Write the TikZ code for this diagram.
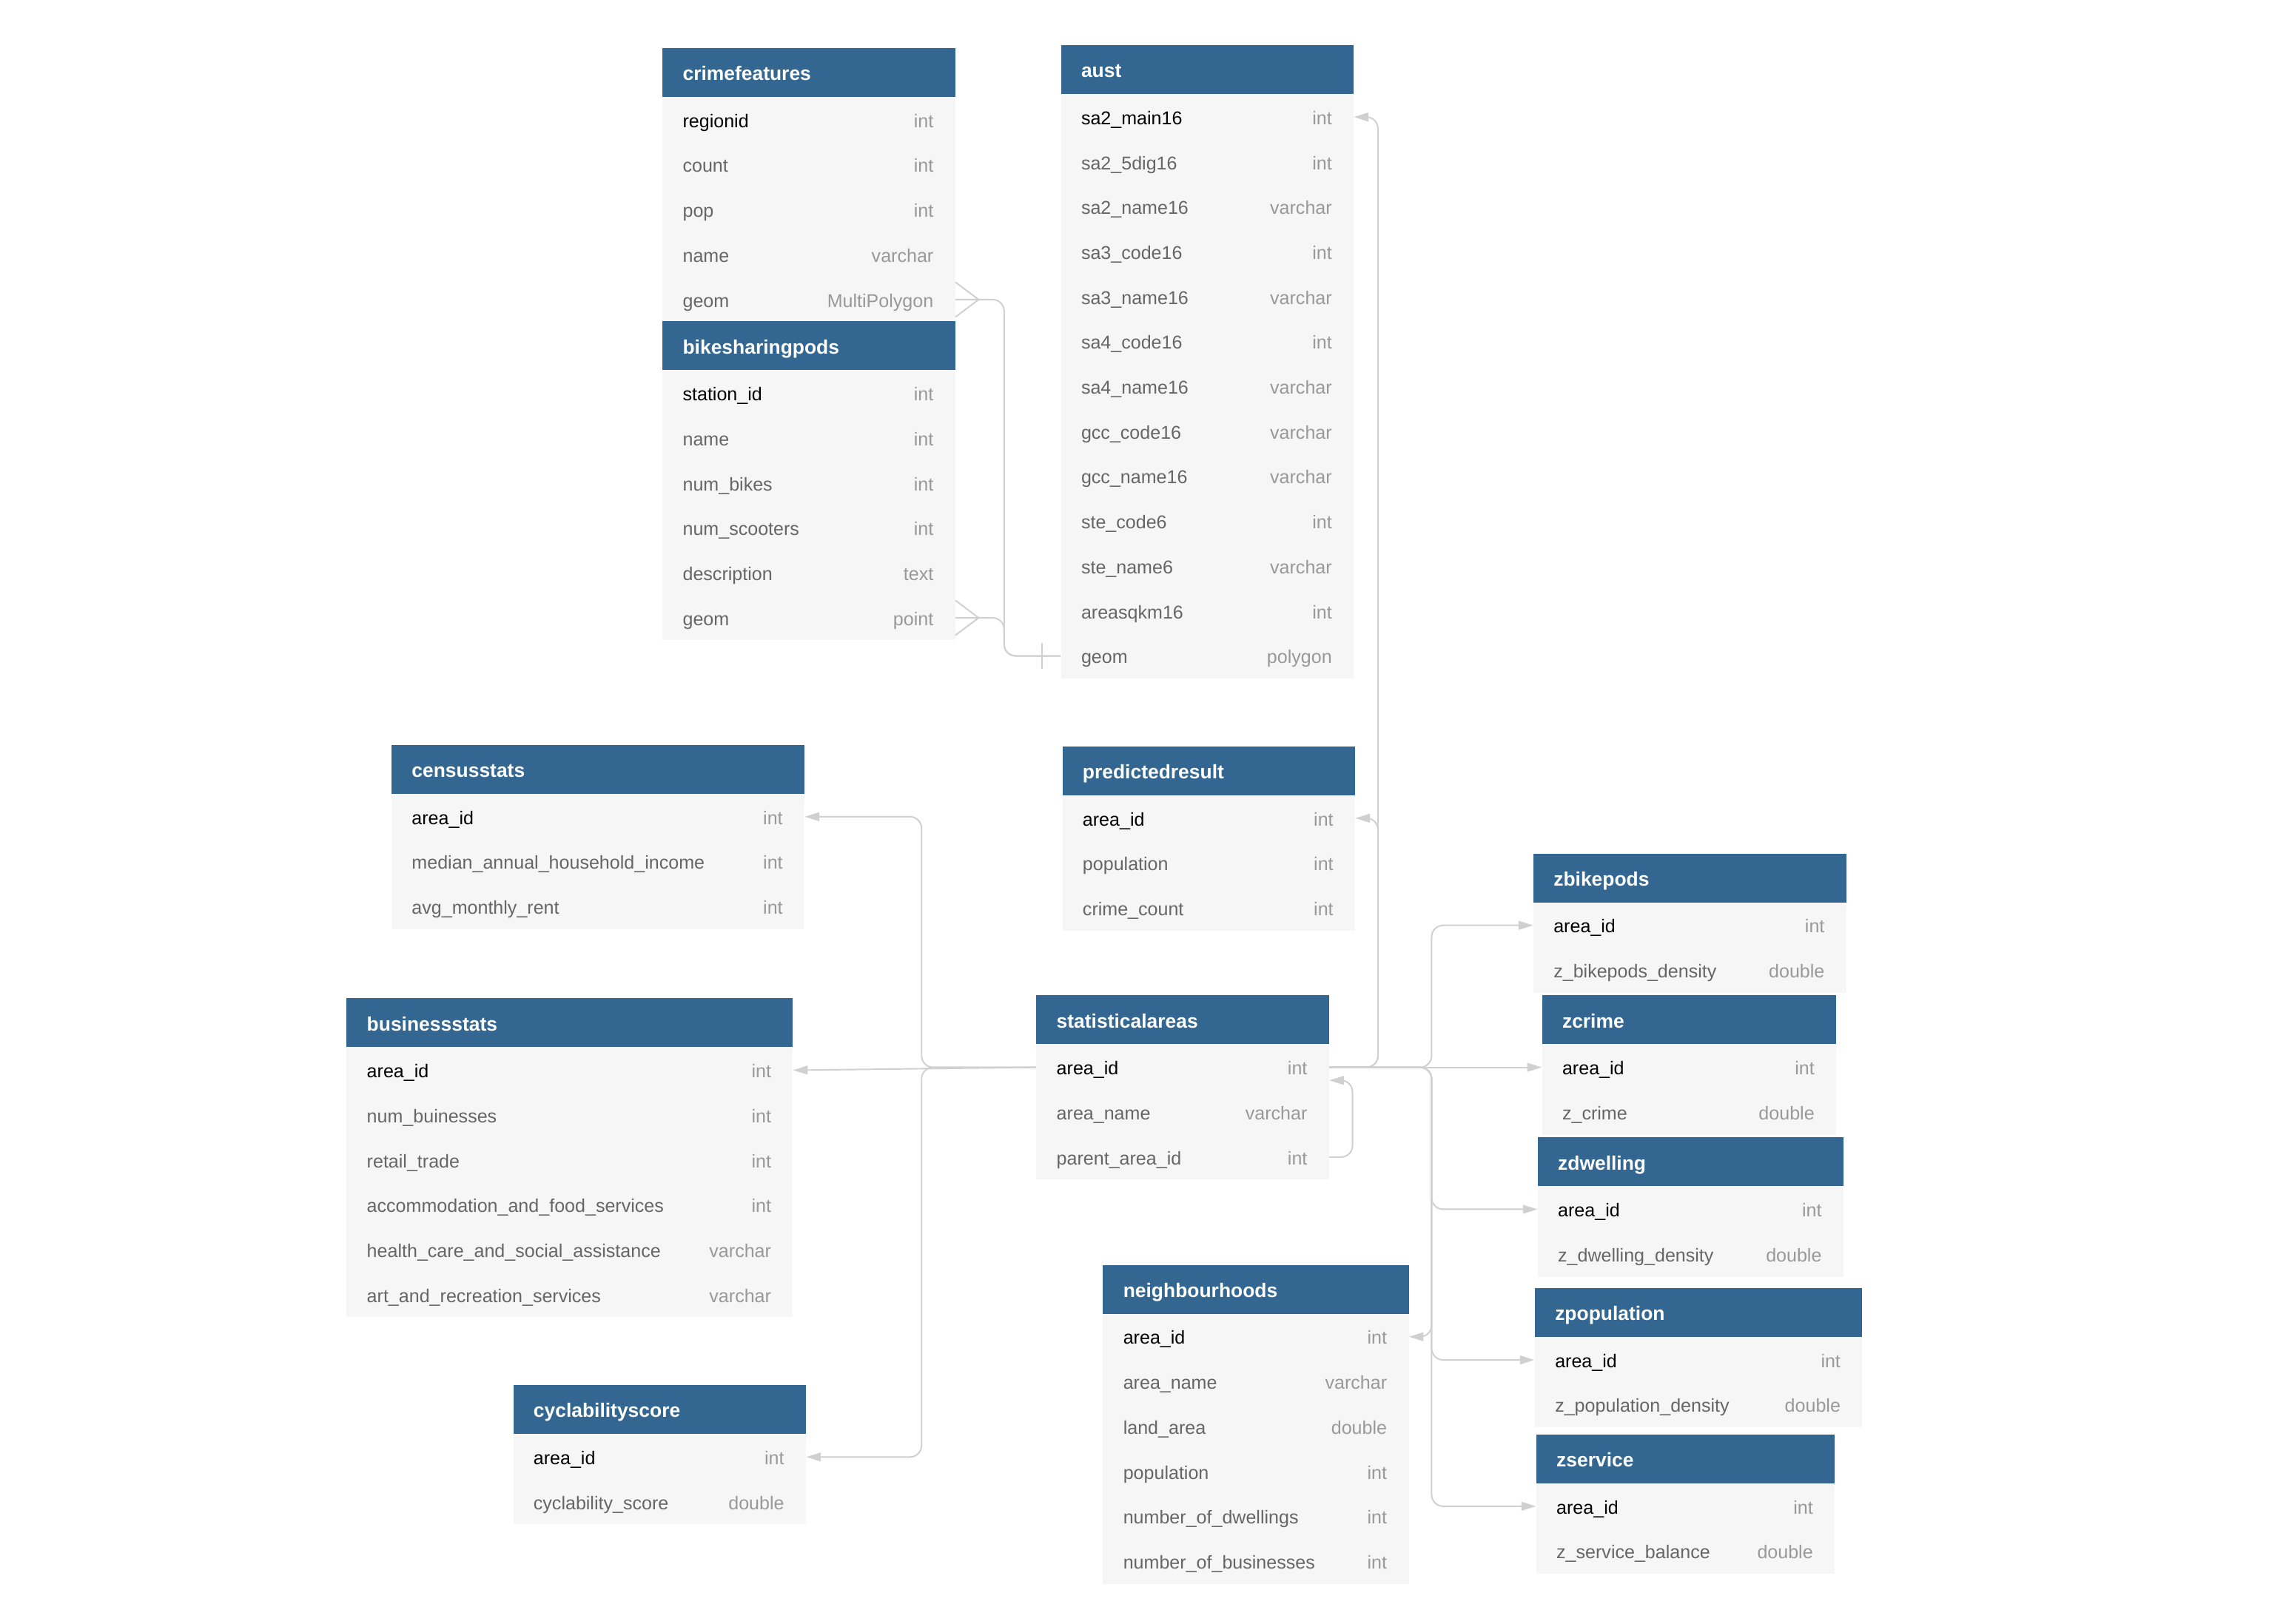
\documentclass[tikz,border=0pt]{standalone}
\usepackage{fontspec}
\setmainfont{Liberation Sans}
\usetikzlibrary{arrows.meta}

\definecolor{headblue}{RGB}{51,103,145}
\definecolor{rowbg}{RGB}{246,246,246}
\definecolor{fieldgray}{RGB}{102,102,102}
\definecolor{typegray}{RGB}{153,153,153}
\definecolor{linkgray}{RGB}{208,208,208}

% one table: name, x, y, width, title, fields
\newcommand{\erdtable}[6]{%
  \node[head,minimum width=#4] (#1) at (#2,#3) {};
  \node[headtext] (#1-title) at ([xshift=14pt]#1.west) {#5};
  \foreach \f/\t [count=\i] in {#6} {
    \ifnum\i=1 \def\fc{black}\else\def\fc{fieldgray}\fi
    \node[row,minimum width=#4] (#1-\i) at ([yshift=-31pt*(\i-1)]#1.south west) {};
    \node[fname,text=\fc] (#1-\i-f) at ([xshift=14pt]#1-\i.west) {\f};
    \node[ftype] (#1-\i-t) at ([xshift=-15pt]#1-\i.east) {\t};
  }%
}

\begin{document}
\begin{tikzpicture}
  [x=1pt,y=1pt,
   head/.style={rectangle,fill=headblue,anchor=north west,minimum height=33.7pt,inner sep=0pt},
   headtext/.style={anchor=west,text=white,inner sep=0pt,text height=10pt,text depth=3pt,yshift=-2pt,
     font=\fontsize{13.5}{16}\selectfont\bfseries},
   row/.style={rectangle,fill=rowbg,anchor=north west,minimum height=31pt,inner sep=0pt},
   fname/.style={anchor=west,inner sep=0pt,text height=9pt,text depth=2.6pt,yshift=-2pt,
     font=\fontsize{12.8}{15}\selectfont},
   ftype/.style={fname,anchor=east,text=typegray},
   link/.style={draw=linkgray,line width=1pt,rounded corners=8pt},
   fk/.style={link,-{Triangle[length=10pt,width=6pt]}}]

  \useasboundingbox (0,0) rectangle (1568,-1120.6);

  \erdtable{crime}{457}{-33}{202pt}{crimefeatures}
    {regionid/int,count/int,pop/int,name/varchar,geom/MultiPolygon}
  \erdtable{bike}{457}{-221.7}{202pt}{bikesharingpods}
    {station\_id/int,name/int,num\_bikes/int,num\_scooters/int,description/text,geom/point}
  \erdtable{aust}{732}{-31}{202pt}{aust}
    {sa2\_main16/int,sa2\_5dig16/int,sa2\_name16/varchar,sa3\_code16/int,sa3\_name16/varchar,
     sa4\_code16/int,sa4\_name16/varchar,gcc\_code16/varchar,gcc\_name16/varchar,
     ste\_code6/int,ste\_name6/varchar,areasqkm16/int,geom/polygon}
  \erdtable{census}{270}{-514}{285pt}{censusstats}
    {area\_id/int,median\_annual\_household\_income/int,avg\_monthly\_rent/int}
  \erdtable{business}{239}{-689}{308pt}{businessstats}
    {area\_id/int,num\_buinesses/int,retail\_trade/int,accommodation\_and\_food\_services/int,
     health\_care\_and\_social\_assistance/varchar,art\_and\_recreation\_services/varchar}
  \erdtable{cycl}{354}{-956}{202pt}{cyclabilityscore}
    {area\_id/int,cyclability\_score/double}
  \erdtable{pred}{733}{-515}{202pt}{predictedresult}
    {area\_id/int,population/int,crime\_count/int}
  \erdtable{stat}{715}{-687}{202pt}{statisticalareas}
    {area\_id/int,area\_name/varchar,parent\_area\_id/int}
  \erdtable{neigh}{761}{-873}{211pt}{neighbourhoods}
    {area\_id/int,area\_name/varchar,land\_area/double,population/int,
     number\_of\_dwellings/int,number\_of\_businesses/int}
  \erdtable{zbike}{1058}{-589}{216pt}{zbikepods}
    {area\_id/int,z\_bikepods\_density/double}
  \erdtable{zcrime}{1064}{-687}{203pt}{zcrime}
    {area\_id/int,z\_crime/double}
  \erdtable{zdwell}{1061}{-785}{211pt}{zdwelling}
    {area\_id/int,z\_dwelling\_density/double}
  \erdtable{zpop}{1059}{-889}{226pt}{zpopulation}
    {area\_id/int,z\_population\_density/double}
  \erdtable{zserv}{1060}{-990}{206pt}{zservice}
    {area\_id/int,z\_service\_balance/double}

  % bus lines
  \coordinate (gbus) at (693,0);
  \coordinate (lbus) at (636,0);
  \coordinate (rbus) at (951,0);
  \coordinate (zbus) at (988,0);

  % geom -> aust
  \draw[link] (crime-5.east) -- (crime-5.east -| gbus) |- (aust-13.west);
  \draw[link] (bike-6.east) -- (bike-6.east -| gbus) |- (aust-13.west);
  \draw[link,sharp corners] ([yshift=12pt]crime-5.east) -- ([xshift=16pt]crime-5.east) -- ([yshift=-12pt]crime-5.east);
  \draw[link,sharp corners] ([yshift=12pt]bike-6.east) -- ([xshift=16pt]bike-6.east) -- ([yshift=-12pt]bike-6.east);
  \draw[link] ([xshift=-13pt,yshift=9pt]aust-13.west) -- ([xshift=-13pt,yshift=-9pt]aust-13.west);

  % statisticalareas, left
  \draw[fk] (stat-1.west) -- (stat-1.west -| lbus) |- (census-1.east);
  \draw[fk] (stat-1.west) -- (business-1.east);
  \draw[fk] (stat-1.west) -- (stat-1.west -| lbus) |- (cycl-1.east);

  % statisticalareas, right
  \draw[fk] (stat-1.east) -- (stat-1.east -| rbus) |- (pred-1.east);
  \draw[fk] (stat-1.east) -- (stat-1.east -| rbus) |- (aust-1.east);
  \draw[fk] (stat-3.east) -- ++(16,0) |- ([yshift=-9pt]stat-1.east);
  \draw[fk] (stat-1.east) -- (stat-1.east -| zbus) |- (zbike-1.west);
  \draw[fk] (stat-1.east) -- (zcrime-1.west);
  \draw[fk] (stat-1.east) -- (stat-1.east -| zbus) |- (zdwell-1.west);
  \draw[fk] (stat-1.east) -- (stat-1.east -| zbus) |- (zpop-1.west);
  \draw[fk] (stat-1.east) -- (stat-1.east -| zbus) |- (zserv-1.west);
  \draw[fk] (stat-1.east) -- (stat-1.east -| zbus) |- (neigh-1.east);

\end{tikzpicture}
\end{document}
